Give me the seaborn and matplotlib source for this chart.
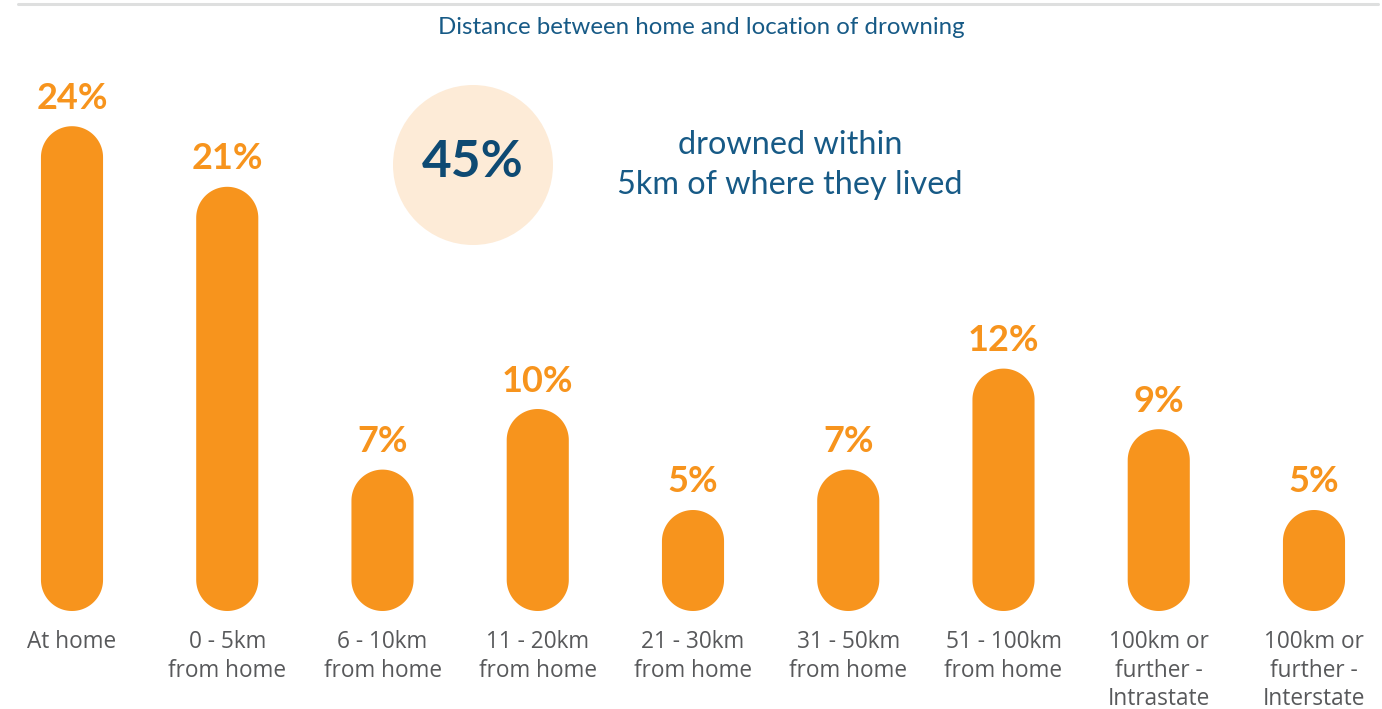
import matplotlib
matplotlib.use("Agg")
import matplotlib.pyplot as plt
from matplotlib.patches import PathPatch, Ellipse
from matplotlib.path import Path
from matplotlib.lines import Line2D
import numpy as np
import pandas as pd
import seaborn as sns

# ---- data ----
categories = [
    "At home",
    "0 - 5km\nfrom home",
    "6 - 10km\nfrom home",
    "11 - 20km\nfrom home",
    "21 - 30km\nfrom home",
    "31 - 50km\nfrom home",
    "51 - 100km\nfrom home",
    "100km or\nfurther -\nIntrastate",
    "100km or\nfurther -\nInterstate",
]
shares = [24, 21, 7, 10, 5, 7, 12, 9, 5]
headline_value = "45%"
headline_text = "drowned within\n5km of where they lived"
title = "Distance between home and location of drowning"

# ---- style ----
ORANGE = "#F7941D"
NAVY = "#0E4A73"
BLUE = "#175A86"
GREY = "#58595B"
PEACH = "#FDEBD7"

W, H = 1382, 709
px_per_cat = 155.25      # horizontal pixels between bar centres
px_per_pct = 20.2        # vertical pixels per percentage point
first_bar_px = 72        # centre of first bar
base_px = 611            # baseline, measured from the top edge

sns.set_theme(style="white")
plt.rcParams["font.family"] = ["Open Sans", "DejaVu Sans"]

fig = plt.figure(figsize=(W / 100, H / 100), dpi=100)
ax = fig.add_axes([0, 0, 1, 1])

df = pd.DataFrame({"category": categories, "share": shares})
sns.barplot(data=df, x="category", y="share", color=ORANGE, width=0.4,
            saturation=1, ax=ax, errorbar=None)

ax.set_xlim(-first_bar_px / px_per_cat, (W - first_bar_px) / px_per_cat)
ax.set_ylim(-(H - base_px) / px_per_pct, base_px / px_per_pct)
ax.axis("off")


def py(pixel_from_top):
    """Convert a pixel row (from top) to data y."""
    return (base_px - pixel_from_top) / px_per_pct


def px(pixel_from_left):
    return (pixel_from_left - first_bar_px) / px_per_cat


def pill_path(x, w, h):
    """Closed path of a bar with semicircular ends (circular on screen)."""
    rx = w / 2
    ry = rx * px_per_cat / px_per_pct
    xc = x + rx
    t_top = np.linspace(0, np.pi, 60)
    t_bot = np.linspace(np.pi, 2 * np.pi, 60)
    top = np.column_stack([xc + rx * np.cos(t_top), h - ry + ry * np.sin(t_top)])
    bot = np.column_stack([xc + rx * np.cos(t_bot), ry + ry * np.sin(t_bot)])
    verts = np.vstack([top, bot, top[:1]])
    codes = [Path.MOVETO] + [Path.LINETO] * (len(verts) - 2) + [Path.CLOSEPOLY]
    return Path(verts, codes)


# replace the square bars by pill shaped ones
for patch, value in zip(list(ax.patches), shares):
    x, w, h = patch.get_x(), patch.get_width(), patch.get_height()
    patch.remove()
    ax.add_patch(PathPatch(pill_path(x, w, h), facecolor=ORANGE,
                           edgecolor="none"))
    ax.text(x + w / 2, h + 28 / px_per_pct, f"{value}%",
            ha="center", va="center", color=ORANGE, fontsize=26,
            fontweight="bold", family=["Lato", "DejaVu Sans"])

# category labels under the bars
for i, cat in enumerate(categories):
    ax.text(i, py(630), cat, ha="center", va="top", color=GREY,
            fontsize=16.3, linespacing=1.26)

# headline circle
ax.add_patch(Ellipse((px(473), py(165)), 160 / px_per_cat, 160 / px_per_pct,
                     facecolor=PEACH, edgecolor="none"))
ax.text(px(473), py(163), headline_value, ha="center", va="center",
        color=NAVY, fontsize=37, fontweight="bold",
        family=["Lato", "DejaVu Sans"])
ax.text(px(790), py(165), headline_text, ha="center", va="center",
        color=BLUE, fontsize=23.3, linespacing=1.45,
        family=["Lato", "DejaVu Sans"])

# title and rule
fig.text(701 / W, 1 - 27 / H, title, ha="center", va="center", color=BLUE,
         fontsize=17.3, family=["Lato", "DejaVu Sans"])
fig.add_artist(Line2D([18 / W, 1378 / W], [1 - 4 / H, 1 - 4 / H],
                      color="#DEDFDF", lw=2.2))

fig.savefig("out.png", dpi=100)
